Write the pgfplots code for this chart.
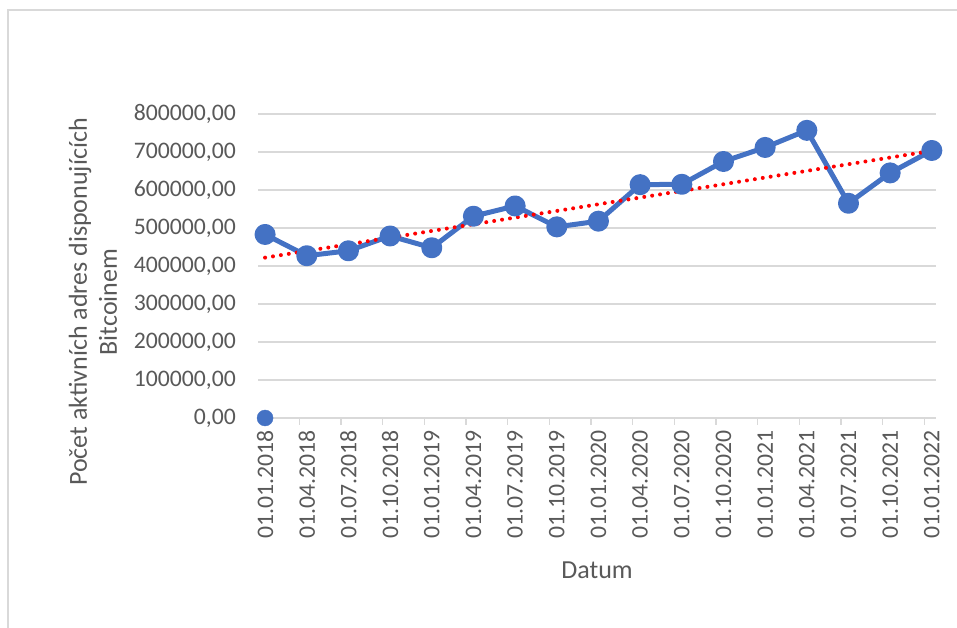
\documentclass[border=0pt]{standalone}
\usepackage{fontspec}
\setmainfont{Carlito}
\usepackage{pgfplots}
\pgfplotsset{compat=1.18}
\definecolor{gridc}{HTML}{D9D9D9}
\definecolor{tickc}{HTML}{595959}
\definecolor{serblue}{HTML}{4472C4}
\begin{document}
\begin{tikzpicture}
\path[use as bounding box] (0,0) rectangle (957bp,628bp);
\draw[color=gridc, line width=1.3bp] (8bp,0) -- (8bp,618bp) -- (957bp,618bp);
\begin{axis}[
  at={(258bp,210bp)}, anchor=south west,
  scale only axis, width=678bp, height=304bp,
  xmin=-0.17, xmax=16.1, ymin=0, ymax=800000,
  clip=false,
  scaled y ticks=false,
  axis x line*=bottom, axis y line*=left,
  y axis line style={draw=none},
  x axis line style={draw=none},
  major tick length=0pt,
  ymajorgrids, grid style={color=gridc, line width=1.3bp},
  xtick={0,...,16},
  xticklabels={01.01.2018,01.04.2018,01.07.2018,01.10.2018,01.01.2019,01.04.2019,01.07.2019,01.10.2019,01.01.2020,01.04.2020,01.07.2020,01.10.2020,01.01.2021,01.04.2021,01.07.2021,01.10.2021,01.01.2022},
  ytick={0,100000,...,800000},
  yticklabels={{0,00},{100000,00},{200000,00},{300000,00},{400000,00},{500000,00},{600000,00},{700000,00},{800000,00}},
  ticklabel style={font=\fontsize{23.7bp}{28bp}\selectfont, color=tickc, inner sep=0pt},
  x tick label style={rotate=90, anchor=east},
  xticklabel shift=12bp,
  yticklabel shift=22bp,
  extra x ticks={0.82,1.82,2.82,3.82,4.82,5.82,6.82,7.82,8.82,9.82,10.82,11.82,12.82,13.82,14.82,15.82},
  extra x tick labels={},
  extra x tick style={major tick length=7bp, tick align=outside, xmajorgrids=false, tick style={color=gridc, line width=1.3bp}},
]
\addplot[color=serblue, line width=5bp, line join=round, mark=*, mark size=8bp, mark options={fill=serblue, draw=none}]
coordinates {
(0,483000) (1,427000) (2,440000) (3,479000) (4,448000) (5,531000) (6,558000) (7,503000) (8,518000) (9,614000) (10,615000) (11,675000) (12,712000) (13,757000) (14,565000) (15,645000) (16,704000)
};
\addplot[color=serblue, only marks, mark=*, mark size=8bp, mark options={fill=serblue, draw=none}]
coordinates {(0,0)};
\addplot[color=red, line width=4bp, line cap=round, dash pattern=on 0pt off 8bp]
coordinates {(0,422000) (16,703000)};
\end{axis}
\node[font=\fontsize{26bp}{30bp}\selectfont, color=tickc] at (597bp,58bp) {Datum};
\node[font=\fontsize{26bp}{30bp}\selectfont, color=tickc, rotate=90, align=center] at (93bp,326bp) {Počet aktivních adres disponujících\\Bitcoinem};
\end{tikzpicture}
\end{document}
